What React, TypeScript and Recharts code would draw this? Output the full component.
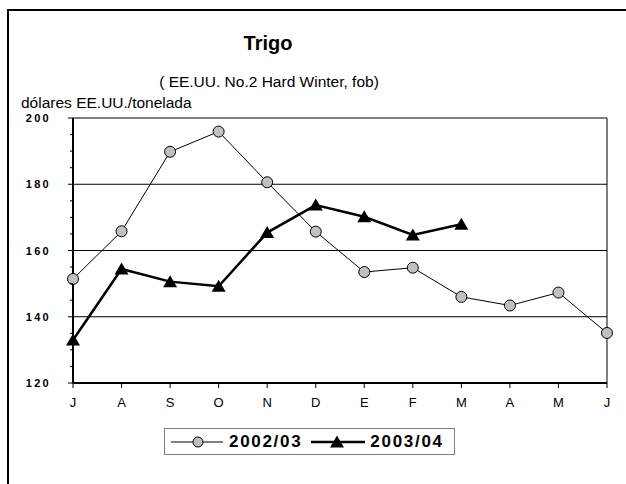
import { LineChart, Line, XAxis, YAxis, ReferenceLine, Legend } from 'recharts'

const months = ['jul', 'ago', 'sep', 'oct', 'nov', 'dic', 'ene', 'feb', 'mar', 'abr', 'may', 'jun']
const monthLabels = ['J', 'A', 'S', 'O', 'N', 'D', 'E', 'F', 'M', 'A', 'M', 'J']
const season0203 = [151.4, 165.8, 189.8, 195.9, 180.6, 165.7, 153.5, 154.8, 146, 143.4, 147.3, 135.1]
const season0304 = [133, 154.4, 150.6, 149.2, 165.4, 173.7, 170.2, 164.7, 167.9, null, null, null]
const yTicks = [120, 125, 130, 135, 140, 145, 150, 155, 160, 165, 170, 175, 180, 185, 190, 195, 200]
const yLabels = [120, 140, 160, 180, 200]
const gridValues = [140, 160, 180]

const data = months.map((m, i) => ({
    month: m,
    s0203: season0203[i],
    s0304: season0304[i],
}))

const FONT = '"Liberation Sans", Arial, sans-serif'

function YTick({ x, y, payload }: any) {
    const major = yLabels.includes(payload.value)
    return (
        <g>
            <line x1={x - (major ? 5 : 3)} x2={x} y1={y} y2={y} stroke="#000" strokeWidth={1} />
            {major && (
                <text x={x - 22} y={y} dy={4} textAnchor="end" fontFamily={FONT}
                    fontSize={11} fontWeight="bold" letterSpacing={2.3} fill="#000">
                    {payload.value}
                </text>
            )}
        </g>
    )
}

function Triangle({ cx, cy }: any) {
    if (cx == null || cy == null) return <g />
    return <path d={`M${cx},${cy - 6.5} L${cx + 7},${cy + 5.5} L${cx - 7},${cy + 5.5} Z`} fill="#000" />
}

function LegendBox() {
    return (
        <div style={{
            display: 'flex', alignItems: 'center', border: '1px solid #808080', height: 25,
            paddingLeft: 6, paddingRight: 10, background: '#fff', fontFamily: FONT,
            fontWeight: 'bold', fontSize: 17, letterSpacing: 1.7, color: '#000',
        }}>
            <svg width={52} height={16}>
                <line x1={0} x2={52} y1={8} y2={8} stroke="#000" strokeWidth={1} />
                <circle cx={27} cy={8} r={5} fill="#c0c0c0" stroke="#000" />
            </svg>
            <span style={{ marginLeft: 6 }}>2002/03</span>
            <svg width={54} height={16} style={{ marginLeft: 9 }}>
                <line x1={0} x2={54} y1={8} y2={8} stroke="#000" strokeWidth={2.5} />
                <path d="M26,1.5 L33,13.5 L19,13.5 Z" fill="#000" />
            </svg>
            <span style={{ marginLeft: 5 }}>2003/04</span>
        </div>
    )
}

export default function App() {
    return (
        <div style={{ position: 'absolute', left: 0, top: 0, width: 626, height: 484, overflow: 'hidden', background: '#fff' }}>
            <div style={{
                position: 'absolute', left: 7, top: 9, width: 630, height: 490,
                borderLeft: '2px solid #000', borderTop: '2px solid #000',
            }} />
            <div style={{ position: 'absolute', left: 118, top: 33, width: 300, textAlign: 'center', fontFamily: FONT, fontSize: 20, fontWeight: 'bold', lineHeight: 1 }}>
                Trigo
            </div>
            <div style={{ position: 'absolute', left: 119, top: 74, width: 300, textAlign: 'center', fontFamily: FONT, fontSize: 15.5, lineHeight: 1 }}>
                ( EE.UU. No.2 Hard Winter, fob)
            </div>
            <div style={{ position: 'absolute', left: 21, top: 95, fontFamily: FONT, fontSize: 15.5, lineHeight: 1 }}>
                dólares EE.UU./tonelada
            </div>
            <LineChart width={626} height={484} data={data}
                margin={{ top: 118, right: 19, bottom: 71, left: 0 }}
                style={{ position: 'absolute', left: 0, top: 0 }}>
                {gridValues.map(v => (
                    <ReferenceLine key={v} y={v} stroke="#000" strokeWidth={1} ifOverflow="visible" />
                ))}
                <ReferenceLine y={200} stroke="#000" strokeWidth={1} />
                <ReferenceLine x="jun" stroke="#000" strokeWidth={1} />
                <XAxis dataKey="month" tickFormatter={(_v: string, i: number) => monthLabels[i]}
                    height={30} interval={0} tickSize={5} tickMargin={10}
                    axisLine={{ stroke: '#000', strokeWidth: 2 }} tickLine={{ stroke: '#000' }}
                    tick={{ fill: '#000', fontSize: 13, fontFamily: FONT }} />
                <YAxis domain={[120, 200]} ticks={yTicks} width={73} interval={0}
                    tickSize={0} tickMargin={0} tickLine={false}
                    axisLine={{ stroke: '#000', strokeWidth: 2 }} tick={<YTick />} />
                <Line dataKey="s0203" name="2002/03" stroke="#000" strokeWidth={1}
                    dot={{ r: 5.5, fill: '#c0c0c0', stroke: '#000', strokeWidth: 1 }}
                    isAnimationActive={false} />
                <Line dataKey="s0304" name="2003/04" stroke="#000" strokeWidth={2.5}
                    dot={<Triangle />} isAnimationActive={false} />
                <Legend layout="horizontal" verticalAlign="middle" align="center"
                    content={<LegendBox />}
                    wrapperStyle={{ left: 164, top: 428, width: 'auto' }} />
            </LineChart>
        </div>
    )
}
